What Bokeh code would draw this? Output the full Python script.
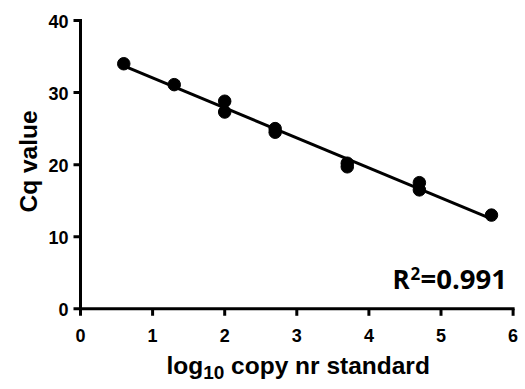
import math
import numpy as np
from bokeh.plotting import figure
from bokeh.models import Range1d
from bokeh.core.properties import value
from bokeh.embed import file_html
from bokeh.resources import INLINE

# data
log_copy = [0.6, 1.3, 2.0, 2.0, 2.7, 2.7, 3.7, 3.7, 4.7, 4.7, 5.7]
cq = [34.0, 31.1, 28.8, 27.3, 25.0, 24.5, 20.2, 19.7, 17.5, 16.5, 13.0]
x_ticks = [0, 1, 2, 3, 4, 5, 6]
y_ticks = [0, 10, 20, 30, 40]
x_tick_labels = [str(t) for t in x_ticks]
y_tick_labels = [str(t) for t in y_ticks]
x_label_parts = ["log", "10", "copy nr standard"]
y_label = "Cq value"
r2_parts = ["R", "2", "=0.991"]

slope, intercept = np.polyfit(log_copy, cq, 1)
fit_x = [min(log_copy), max(log_copy)]
fit_y = [slope * v + intercept for v in fit_x]

# page geometry (pixels) -> the whole canvas is the plotting frame
W, H = 525, 389
X0PX, X6PX = 80.0, 512.6      # pixel of x=0 and x=6
Y0PX, Y40PX = 308.3, 20.0     # pixel of y=0 and y=40
sx = (X6PX - X0PX) / 6.0
sy = (Y0PX - Y40PX) / 40.0
K = 0.3  # svg text baseline correction (fraction of font size)


def dx(px):
    return (px - X0PX) / sx


def dy(py):
    return (Y0PX - py) / sy


def base(py, size):
    # data y for an alphabetic baseline at pixel py
    return dy(py - K * size)


p = figure(width=W, height=H, output_backend="svg", toolbar_location=None,
           x_range=Range1d(dx(0), dx(W)), y_range=Range1d(dy(H), dy(0)),
           min_border_left=0, min_border_right=0, min_border_top=0, min_border_bottom=0)
p.outline_line_color = None
p.xgrid.visible = False
p.ygrid.visible = False
p.xaxis.visible = False
p.yaxis.visible = False

# axes and outward ticks as filled bars (3 px thick, 7 px ticks), built from the tick lists
hw_x = 1.5 / sx   # half line width in x data units
hw_y = 1.5 / sy   # half line width in y data units
tl_x = 7 / sx
tl_y = 7 / sy
left, right, bottom, top = [], [], [], []
# x axis line and y axis line
left += [-hw_x, -hw_x]
right += [x_ticks[-1] + hw_x, hw_x]
bottom += [-hw_y, -hw_y]
top += [hw_y, y_ticks[-1] + hw_y]
for t in x_ticks:
    left.append(t - hw_x)
    right.append(t + hw_x)
    bottom.append(-tl_y)
    top.append(0)
for t in y_ticks:
    left.append(-tl_x)
    right.append(0)
    bottom.append(t - hw_y)
    top.append(t + hw_y)
p.quad(left=left, right=right, bottom=bottom, top=top,
       fill_color="black", line_color=None)

tick_font = dict(text_font=value("Liberation Sans"), text_font_style="bold",
                 text_font_size="18px", text_color="black", text_baseline="alphabetic")
p.text(x=x_ticks, y=[base(340, 18)] * len(x_ticks), text=x_tick_labels,
       text_align="center", **tick_font)
p.text(x=[dx(68)] * len(y_ticks), y=[dy(Y0PX - t * sy + 6.4 - K * 18) for t in y_ticks],
       text=y_tick_labels, text_align="right", **tick_font)

# axis titles
lab_font = dict(text_font=value("Liberation Sans"), text_font_style="bold", text_color="black",
                text_baseline="alphabetic", text_align="left")
p.text(x=[dx(35 - K * 24.5)], y=[dy(161)], text=[y_label], angle=math.pi / 2,
       text_font=value("Liberation Sans"), text_font_style="bold", text_color="black",
       text_baseline="alphabetic", text_align="center", text_font_size="24.5px")
p.text(x=[dx(166)], y=[base(372, 24.5)], text=[x_label_parts[0]],
       text_font_size="24.5px", **lab_font)
p.text(x=[dx(202.7)], y=[base(378, 19)], text=[x_label_parts[1]],
       text_font_size="19px", **lab_font)
p.text(x=[dx(230.6)], y=[base(372, 24.5)], text=[x_label_parts[2]],
       text_font_size="24.5px", **lab_font)

# data
p.line(fit_x, fit_y, line_color="black", line_width=3)
p.scatter(log_copy, cq, size=12.5, fill_color="black", line_color="black")

# R^2 annotation
r2_font = dict(text_font=value("Open Sans"), text_font_style="bold", text_color="black",
               text_baseline="alphabetic", text_align="left")
p.text(x=[dx(392)], y=[base(286, 26)], text=[r2_parts[0]], text_font_size="26px", **r2_font)
p.text(x=[dx(410)], y=[base(278.5, 17)], text=[r2_parts[1]], text_font_size="17px", **r2_font)
p.text(x=[dx(420)], y=[base(286, 27.5)], text=[r2_parts[2]], text_font_size="27.5px", **r2_font)

open("out.html", "w").write(file_html(p, INLINE))
